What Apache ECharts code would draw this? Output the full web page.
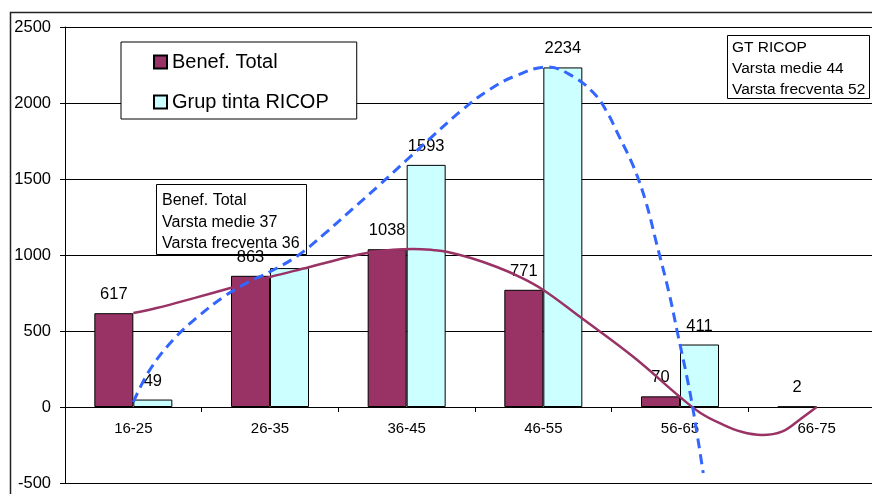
<!DOCTYPE html>
<html>
<head>
<meta charset="utf-8">
<script src="https://cdn.jsdelivr.net/npm/echarts@6/dist/echarts.min.js"></script>
<style>
html,body{margin:0;padding:0;background:#fff;}
#c{width:872px;height:494px;}
</style>
</head>
<body>
<div id="c"></div>
<script>
// ---- data ----
const categories = ['16-25', '26-35', '36-45', '46-55', '56-65', '66-75'];
const benefTotal = [617, 863, 1038, 771, 70, 2];
const grupRicop = [49, 914, 1593, 2234, 411, null];
const yTicks = [-500, 0, 500, 1000, 1500, 2000, 2500];

// trend curves (x in category index units)
const benefTrendX = [0, 0.17, 0.45, 0.71, 1.0, 1.29, 1.5, 1.7, 1.9, 2.05, 2.2, 2.3, 2.47, 2.66, 2.83, 3.0, 3.27, 3.66, 4.0, 4.15, 4.3, 4.45, 4.6, 4.75, 4.88, 5.0];
const benefTrendY = [618, 651, 718, 783, 855, 921, 970, 1012, 1035, 1040, 1032, 1020, 980, 921, 855, 770, 592, 329, 66, -39, -110, -163, -184, -160, -80, 0];
const grupTrendX = [0, 0.12, 0.29, 0.47, 0.66, 0.83, 1.0, 1.2, 1.4, 1.6, 1.8, 2.0, 2.2, 2.4, 2.6, 2.8, 3.03, 3.22, 3.37, 3.46, 3.56, 3.66, 3.75, 3.83, 3.92, 3.98, 4.05, 4.1, 4.17];
const grupTrendY = [33, 243, 441, 592, 724, 816, 890, 994, 1140, 1300, 1460, 1625, 1790, 1950, 2085, 2180, 2237, 2173, 2064, 1950, 1770, 1581, 1350, 1070, 750, 495, 200, -40, -434];

const benefNote = ['Benef. Total', 'Varsta medie 37', 'Varsta frecventa 36'];
const grupNote = ['GT RICOP', 'Varsta medie 44', 'Varsta frecventa 52'];

const FONT = '"Liberation Sans", Arial, sans-serif';

const chart = echarts.init(document.getElementById('c'), null, {renderer: 'canvas'});

function pairs(xs, ys) { return xs.map((x, i) => [x, ys[i]]); }

const option = {
  animation: false,
  backgroundColor: '#fff',
  textStyle: {fontFamily: FONT, color: '#000'},
  grid: {left: 65, top: 27, right: -13, bottom: 11, containLabel: false, outerBoundsMode: 'none'},
  legend: {
    data: ['Benef. Total', 'Grup tinta RICOP'],
    orient: 'vertical',
    left: 121, top: 42,
    padding: [10, 28, 7, 32],
    itemGap: 20,
    itemWidth: 13, itemHeight: 13,
    icon: 'rect',
    backgroundColor: '#fff',
    borderColor: '#000', borderWidth: 1,
    textStyle: {fontSize: 20, fontFamily: FONT, color: '#000', lineHeight: 20},
    z: 10
  },
  xAxis: [
    {
      type: 'category', data: categories, gridIndex: 0, position: 'bottom', offset: -76,
      axisLine: {onZero: false, lineStyle: {color: '#000', width: 1}},
      axisTick: {show: true, length: 5, lineStyle: {color: '#000'}},
      axisLabel: {fontSize: 15, fontFamily: FONT, color: '#000', margin: 14},
      splitLine: {show: false}
    },
    {
      type: 'value', gridIndex: 0, min: -0.5, max: 5.5, show: false
    }
  ],
  yAxis: {
    type: 'value', min: yTicks[0], max: yTicks[yTicks.length - 1], interval: 500,
    axisLine: {show: true, onZero: false, lineStyle: {color: '#000', width: 1}},
    axisTick: {show: true, length: 5, lineStyle: {color: '#000'}},
    axisLabel: {fontSize: 16.5, fontFamily: FONT, color: '#000', margin: 14, formatter: v => String(v)},
    splitLine: {show: true, lineStyle: {color: '#000', width: 1}}
  },
  series: [
    {
      name: 'Benef. Total', type: 'bar', xAxisIndex: 0,
      data: benefTotal,
      barWidth: 39, barGap: '0%',
      itemStyle: {color: '#993366', borderColor: '#000', borderWidth: 1},
      label: {show: true, position: 'top', distance: 10, fontSize: 16.5, fontFamily: FONT, color: '#000'},
      z: 2
    },
    {
      name: 'Grup tinta RICOP', type: 'bar', xAxisIndex: 0,
      data: grupRicop.map((v, i) => (i === 1 ? {value: v, label: {show: false}} : v)),
      barWidth: 39, barGap: '0%',
      itemStyle: {color: '#CCFFFF', borderColor: '#000', borderWidth: 1},
      label: {show: true, position: 'top', distance: 10, fontSize: 16.5, fontFamily: FONT, color: '#000'},
      z: 2
    },
    {
      name: 'benefTrend', type: 'line', xAxisIndex: 1,
      data: pairs(benefTrendX, benefTrendY),
      smooth: 0.4, symbol: 'none', silent: true,
      lineStyle: {color: '#993366', width: 2.5},
      z: 4
    },
    {
      name: 'grupTrend', type: 'line', xAxisIndex: 1,
      data: pairs(grupTrendX, grupTrendY),
      smooth: 0.4, symbol: 'none', silent: true,
      lineStyle: {color: '#3366FF', width: 3, type: [10, 6]},
      z: 5
    }
  ],
  graphic: [
    {
      type: 'rect', z: 0, silent: true,
      shape: {x: 10.5, y: 12.5, width: 1000, height: 1000},
      style: {fill: 'none', stroke: '#222', lineWidth: 1.5}
    },
    {
      type: 'group', left: 156, top: 184, z: 20,
      children: [
        {type: 'rect', shape: {x: 0.5, y: 0.5, width: 150, height: 70}, style: {fill: '#fff', stroke: '#000', lineWidth: 1}},
        {type: 'text', left: 6, top: 6, style: {text: benefNote.join('\n'), font: '16px ' + FONT, fill: '#000', lineHeight: 21.5}}
      ]
    },
    {
      type: 'group', left: 727, top: 35, z: 20,
      children: [
        {type: 'rect', shape: {x: 0.5, y: 0.5, width: 142, height: 63}, style: {fill: '#fff', stroke: '#000', lineWidth: 1}},
        {type: 'text', left: 5, top: 2, style: {text: grupNote.join('\n'), font: '15.5px ' + FONT, fill: '#000', lineHeight: 21}}
      ]
    }
  ]
};
chart.setOption(option);
</script>
</body>
</html>
